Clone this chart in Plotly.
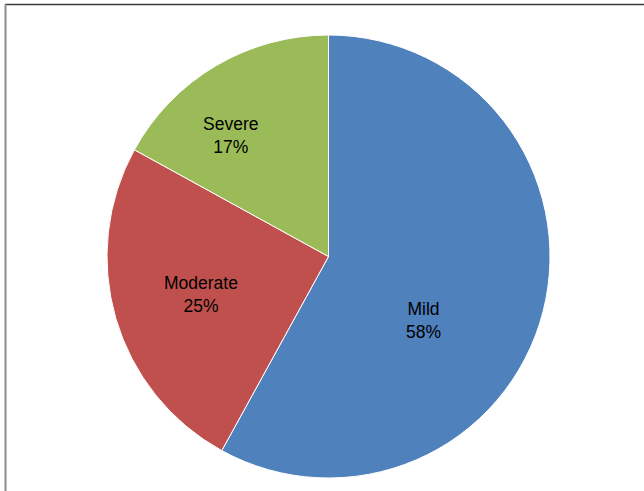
import plotly.graph_objects as go

labels = ["Mild", "Moderate", "Severe"]
values = [58, 25, 17]
colors = ["#4F81BD", "#C0504D", "#9BBB59"]

W, H = 644, 491
cx, cy, r = 328.5, 256.5, 221.5

fig = go.Figure(go.Pie(
    labels=labels, values=values, sort=False, direction="clockwise", rotation=0,
    marker=dict(colors=colors, line=dict(color="white", width=1)),
    textinfo="none", hoverinfo="label+percent", showlegend=False,
    domain=dict(x=[(cx - r) / W, (cx + r) / W], y=[1 - (cy + r) / H, 1 - (cy - r) / H]),
))

# label positions (pixel) for each slice
label_pos = [(423, 320), (201, 294), (230, 136)]
total = sum(values)
for lab, val, (px, py) in zip(labels, values, label_pos):
    fig.add_annotation(
        x=px / W, y=1 - py / H, xref="paper", yref="paper",
        xanchor="center", yanchor="middle",
        text=f"{lab}<br>{round(100 * val / total)}%", showarrow=False,
        font=dict(family="Liberation Sans, Arial", size=17.5, color="black"),
        align="center",
    )

# chart frame: dark top edge, grey left edge
fig.add_shape(type="line", xref="paper", yref="paper",
              x0=5 / W, x1=1.0, y0=1 - 4.5 / H, y1=1 - 4.5 / H,
              line=dict(color="#3a3a3a", width=1.5))
fig.add_shape(type="line", xref="paper", yref="paper",
              x0=5.5 / W, x1=5.5 / W, y0=0, y1=1 - 4 / H,
              line=dict(color="#8c8c8c", width=2))

fig.update_layout(width=W, height=H, margin=dict(l=0, r=0, t=0, b=0),
                  paper_bgcolor="white", plot_bgcolor="white")
fig.write_html("out.html", config={"displayModeBar": False},
               post_script="document.body.style.margin='0';document.body.style.overflow='hidden';")
